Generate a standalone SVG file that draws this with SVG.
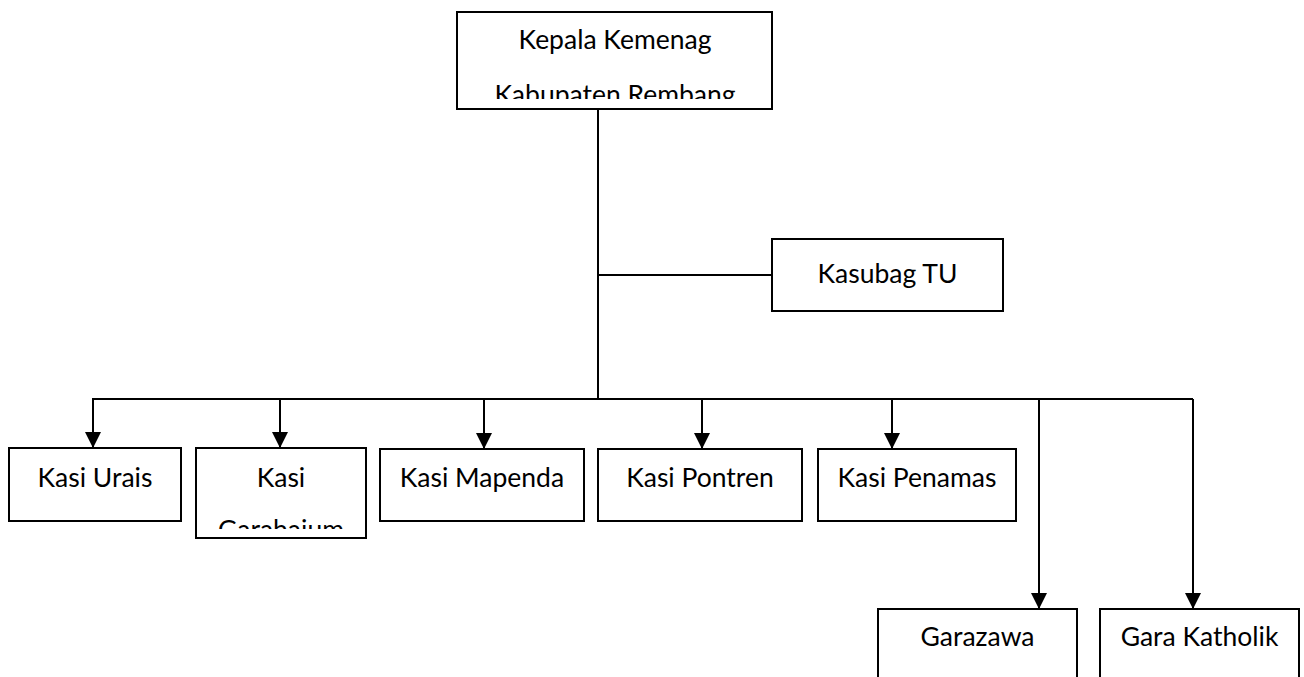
<svg xmlns="http://www.w3.org/2000/svg" width="1304" height="677" viewBox="0 0 1304 677">
  <style>
    .box { fill: #ffffff; stroke: #000000; stroke-width: 2; }
    .lbl { font-family: "Lato", "Open Sans", "Liberation Sans", sans-serif; font-size: 26.5px; fill: #000000; text-anchor: middle; }
    .conn { fill: none; stroke: #000000; stroke-width: 2; }
  </style>
  <defs>
    <marker id="arrow" viewBox="0 0 10 10" refX="10" refY="5" markerWidth="16" markerHeight="16" markerUnits="userSpaceOnUse" orient="auto">
      <path d="M0,0 L10,5 L0,10 z" fill="#000000"/>
    </marker>
    <clipPath id="clipTop"><rect x="457" y="12" width="315" height="87"/></clipPath>
    <clipPath id="clipGar"><rect x="196" y="448" width="170" height="81"/></clipPath>
  </defs>

  <g id="connectors">
    <path class="conn" d="M598,109 V399"/>
    <path class="conn" d="M598,275 H772"/>
    <path class="conn" d="M92,399 H1193"/>
    <path class="conn" d="M93,399 V448" marker-end="url(#arrow)"/>
    <path class="conn" d="M280,399 V448" marker-end="url(#arrow)"/>
    <path class="conn" d="M484,399 V449" marker-end="url(#arrow)"/>
    <path class="conn" d="M702,399 V449" marker-end="url(#arrow)"/>
    <path class="conn" d="M892,399 V449" marker-end="url(#arrow)"/>
    <path class="conn" d="M1039,399 V609" marker-end="url(#arrow)"/>
    <path class="conn" d="M1193,399 V609" marker-end="url(#arrow)"/>
  </g>

  <g id="node-kepala">
    <rect class="box" x="457" y="12" width="315" height="97"/>
    <g clip-path="url(#clipTop)">
      <text class="lbl" x="615" y="49">Kepala Kemenag</text>
      <text class="lbl" x="615" y="104">Kabupaten Rembang</text>
    </g>
  </g>

  <g id="node-kasubag">
    <rect class="box" x="772" y="239" width="231" height="72"/>
    <text class="lbl" x="887.5" y="283">Kasubag TU</text>
  </g>

  <g id="node-urais">
    <rect class="box" x="9" y="448" width="172" height="73"/>
    <text class="lbl" x="95" y="487">Kasi Urais</text>
  </g>

  <g id="node-garahaium">
    <rect class="box" x="196" y="448" width="170" height="90"/>
    <g clip-path="url(#clipGar)">
      <text class="lbl" x="281" y="487">Kasi</text>
      <text class="lbl" x="281" y="539">Garahaium</text>
    </g>
  </g>

  <g id="node-mapenda">
    <rect class="box" x="380" y="449" width="204" height="72"/>
    <text class="lbl" x="482" y="487">Kasi Mapenda</text>
  </g>

  <g id="node-pontren">
    <rect class="box" x="598" y="449" width="204" height="72"/>
    <text class="lbl" x="700" y="487">Kasi Pontren</text>
  </g>

  <g id="node-penamas">
    <rect class="box" x="818" y="449" width="198" height="72"/>
    <text class="lbl" x="917" y="487">Kasi Penamas</text>
  </g>

  <g id="node-garazawa">
    <rect class="box" x="878" y="609" width="199" height="80"/>
    <text class="lbl" x="977.5" y="646">Garazawa</text>
  </g>

  <g id="node-katholik">
    <rect class="box" x="1100" y="609" width="199" height="80"/>
    <text class="lbl" x="1199.5" y="646">Gara Katholik</text>
  </g>
</svg>
